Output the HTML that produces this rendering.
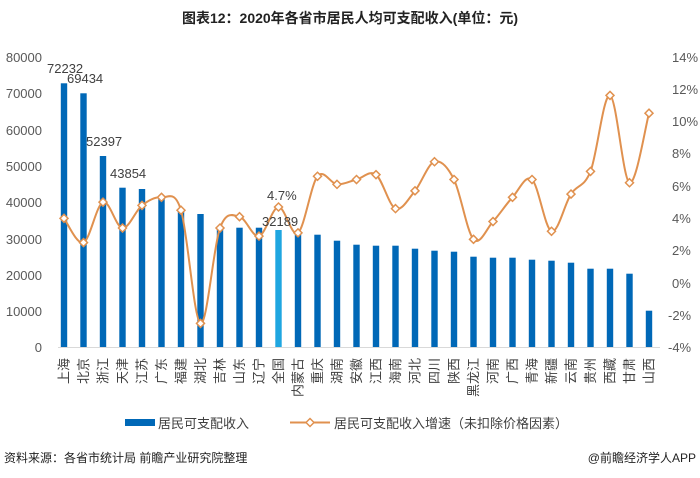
<!DOCTYPE html>
<html><head><meta charset="utf-8">
<style>
body{margin:0;background:#fff;}
svg{display:block;font-family:"Liberation Sans","Noto Sans CJK SC",sans-serif;}
</style></head>
<body>
<svg id="c" width="700" height="478" xmlns="http://www.w3.org/2000/svg">
<text x="350" y="23" text-anchor="middle" font-size="14" font-weight="bold" fill="#222">图表12：2020年各省市居民人均可支配收入(单位：元)</text>
<g id="bars"></g>
<line x1="58" y1="347.5" x2="660" y2="347.5" stroke="#d9d9d9" stroke-width="1"/>
<path id="ln" fill="none" stroke="#e0914f" stroke-width="2"/>
<g id="mk"></g>
<g id="lb" font-size="13" fill="#404040"></g>
<g font-size="13" fill="#595959">
<text x="42" y="62" text-anchor="end">80000</text>
<text x="42" y="98" text-anchor="end">70000</text>
<text x="42" y="135" text-anchor="end">60000</text>
<text x="42" y="171" text-anchor="end">50000</text>
<text x="42" y="207" text-anchor="end">40000</text>
<text x="42" y="244" text-anchor="end">30000</text>
<text x="42" y="280" text-anchor="end">20000</text>
<text x="42" y="316" text-anchor="end">10000</text>
<text x="42" y="352" text-anchor="end">0</text>
<text x="672" y="62">14%</text>
<text x="672" y="94">12%</text>
<text x="672" y="126">10%</text>
<text x="672" y="158">8%</text>
<text x="672" y="191">6%</text>
<text x="672" y="223">4%</text>
<text x="672" y="255">2%</text>
<text x="672" y="288">0%</text>
<text x="668" y="320">-2%</text>
<text x="668" y="352">-4%</text>
</g>
<g font-size="13" fill="#404040">
<text x="47" y="73">72232</text>
<text x="67" y="83">69434</text>
<text x="86" y="146">52397</text>
<text x="110" y="178">43854</text>
<text x="267" y="200">4.7%</text>
<text x="262" y="226">32189</text>
</g>
<rect x="125" y="419" width="30" height="7" fill="#0068b7"/>
<text x="158" y="428" font-size="13" fill="#404040">居民可支配收入</text>
<line x1="290" y1="422.5" x2="330" y2="422.5" stroke="#e0914f" stroke-width="2"/>
<path d="M310 418.5 L314 422.5 L310 426.5 L306 422.5Z" fill="#fff" stroke="#e0914f" stroke-width="1.5"/>
<text x="334" y="428" font-size="13" fill="#404040">居民可支配收入增速（未扣除价格因素）</text>
<text x="4" y="462" font-size="12" fill="#222">资料来源：各省市统计局 前瞻产业研究院整理</text>
<text x="696" y="462" font-size="12" fill="#222" text-anchor="end">@前瞻经济学人APP</text>
</svg>
<script>
var names=["上海","北京","浙江","天津","江苏","广东","福建","湖北","吉林","山东","辽宁","全国","内蒙古","重庆","湖南","安徽","江西","海南","河北","四川","陕西","黑龙江","河南","广西","青海","新疆","云南","贵州","西藏","甘肃","山西"];
var h=[263.7,253.7,191,159.3,158,149,137,133,119.3,119.3,119.3,117,114.3,112.3,106.3,102.3,101.3,101.3,98.3,96.3,95.3,90.3,89.3,89.3,87.3,86.3,84.3,78.3,78.3,73.3,36.3];
var p=[4.0,2.5,5.0,3.4,4.8,5.3,4.5,-2.5,3.4,4.1,2.9,4.7,3.1,6.6,6.1,6.4,6.7,4.6,5.7,7.5,6.4,2.7,3.8,5.3,6.4,3.2,5.5,6.9,11.6,6.2,10.5];
var NS="http://www.w3.org/2000/svg";
function el(t,a,par){var e=document.createElementNS(NS,t);for(var k in a)e.setAttribute(k,a[k]);document.getElementById(par).appendChild(e);return e;}
var pts=[];
for(var i=0;i<31;i++){
 var x=64+i*19.5;
 el("rect",{x:x-3.2,y:347-h[i],width:6.4,height:h[i],fill:i==11?"#1fa6e0":"#0068b7"},"bars");
 var y=283-16.17*p[i];pts.push([x,y]);
 var t=el("text",{transform:"translate("+(x+4.5)+",358) rotate(-90)","text-anchor":"end","font-size":"13",fill:"#404040"},"lb");
 t.textContent=names[i];
}
var d="M"+pts[0][0]+" "+pts[0][1];
for(var i=0;i<30;i++){
 var p0=pts[Math.max(0,i-1)],p1=pts[i],p2=pts[i+1],p3=pts[Math.min(30,i+2)];
 var c1x=p1[0]+(p2[0]-p0[0])/6,c1y=p1[1]+(p2[1]-p0[1])/6;
 var c2x=p2[0]-(p3[0]-p1[0])/6,c2y=p2[1]-(p3[1]-p1[1])/6;
 d+=" C"+c1x+" "+c1y+" "+c2x+" "+c2y+" "+p2[0]+" "+p2[1];
}
document.getElementById("ln").setAttribute("d",d);
pts.forEach(function(q){el("path",{d:"M"+q[0]+" "+(q[1]-4)+" L"+(q[0]+4)+" "+q[1]+" L"+q[0]+" "+(q[1]+4)+" L"+(q[0]-4)+" "+q[1]+"Z",fill:"#fff",stroke:"#e0914f","stroke-width":"1.5"},"mk");});
</script>
</body></html>
